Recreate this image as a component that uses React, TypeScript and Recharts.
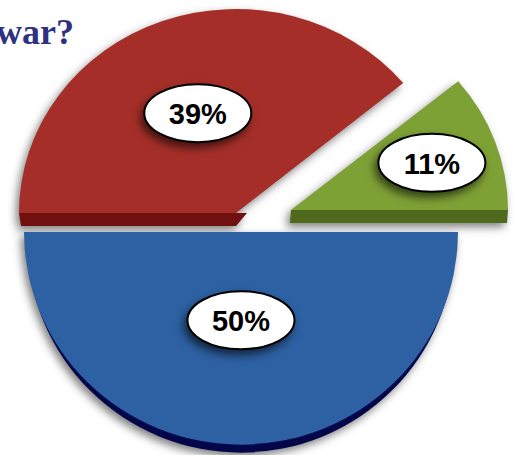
import React from "react";
import { PieChart, Pie, Sector } from "recharts";

const answers = ["Red", "Green", "Blue"];
const shares = [39, 11, 50];

const faceColors = ["#a52f28", "#7ea136", "#2d61a3"];
const sideColors = ["#70110f", "#4f6a1c", "#03074a"];

// Exploded layout per slice: shift from the pie centre, vertical squash, edge thickness.
const shiftX = [-5, 50, 0];
const shiftY = [-19, -22, 0];
const squash = [0.94, 0.93, 0.98];
const depth = [13, 13, 8];
const labelRadius = [0.52, 0.69, 0.415];

const rows = answers.map((name, i) => ({ name, value: shares[i], index: i }));
const RAD = Math.PI / 180;

function Slice(props: any) {
  const { cx, cy, outerRadius, startAngle, endAngle, index } = props;
  const i = props.payload?.index ?? index;
  const tf = `translate(${shiftX[i]} ${shiftY[i]}) translate(${cx} ${cy}) scale(1 ${squash[i]}) translate(${-cx} ${-cy})`;
  const sector = { cx, cy, innerRadius: 0, outerRadius, startAngle, endAngle, stroke: "none" };
  const d = depth[i];
  const x0 = cx + shiftX[i];
  const y0 = cy + shiftY[i];
  let side: React.ReactNode;
  if (i === 0) {
    // front wall under the flat edge, chamfered where it meets the apex
    side = (
      <path
        d={`M${x0 - outerRadius} ${y0} L${x0} ${y0} L${x0 + 11} ${y0} L${x0} ${y0 + d} L${x0 - outerRadius + 2} ${y0 + d} Z`}
        fill={sideColors[i]}
      />
    );
  } else if (i === 1) {
    side = (
      <path
        d={`M${x0} ${y0} L${x0 + outerRadius} ${y0} L${x0 + outerRadius - 1} ${y0 + d} L${x0 - 1} ${y0 + d} Z`}
        fill={sideColors[i]}
      />
    );
  } else {
    // narrower copy of the half disc, so the wall only shows along the lower rim
    side = (
      <g transform={`translate(${cx} ${cy + d}) scale(0.985 ${squash[i]}) translate(${-cx} ${-cy})`}>
        <Sector {...sector} fill={sideColors[i]} />
      </g>
    );
  }
  return (
    <g style={{ filter: "drop-shadow(-3px 4px 4px rgba(0,0,0,0.5))" }}>
      {side}
      <g transform={tf}>
        <Sector {...sector} fill={faceColors[i]} />
      </g>
    </g>
  );
}

function Badge(props: any) {
  const { cx, cy, midAngle, outerRadius, value, index } = props;
  const r = outerRadius * labelRadius[index];
  const x = cx + shiftX[index] + r * Math.cos(midAngle * RAD);
  const y = cy + shiftY[index] - r * Math.sin(midAngle * RAD) * squash[index];
  return (
    <g>
      <ellipse
        cx={x}
        cy={y}
        rx={53.5}
        ry={29}
        fill="#ffffff"
        stroke="#000000"
        strokeWidth={2}
        style={{ filter: "drop-shadow(-3px 5px 4px rgba(0,0,0,0.6))" }}
      />
      <text
        x={x}
        y={y + 11}
        textAnchor="middle"
        fontFamily="'Liberation Sans', Arial, sans-serif"
        fontWeight={700}
        fontSize={29}
        fill="#000000"
      >
        {`${value}%`}
      </text>
    </g>
  );
}

export default function App() {
  return (
    <div style={{ position: "absolute", left: 0, top: 0, width: 514, height: 455, overflow: "hidden", background: "#fff" }}>
      <div
        style={{
          position: "absolute",
          right: 440,
          top: 10,
          fontFamily: "'Liberation Serif', serif",
          fontWeight: 700,
          fontSize: 36,
          lineHeight: "44px",
          color: "#2e3080",
          whiteSpace: "nowrap",
        }}
      >
        war?
      </div>
      <PieChart width={514} height={455} margin={{ top: 0, right: 0, bottom: 0, left: 0 }} style={{ position: "absolute", left: 0, top: 0 }}>
        <Pie
          data={rows}
          dataKey="value"
          nameKey="name"
          cx={241}
          cy={232}
          innerRadius={0}
          outerRadius={217}
          startAngle={180}
          endAngle={-180}
          stroke="none"
          shape={Slice}
          label={Badge}
          labelLine={false}
          isAnimationActive={false}
        />
      </PieChart>
    </div>
  );
}
